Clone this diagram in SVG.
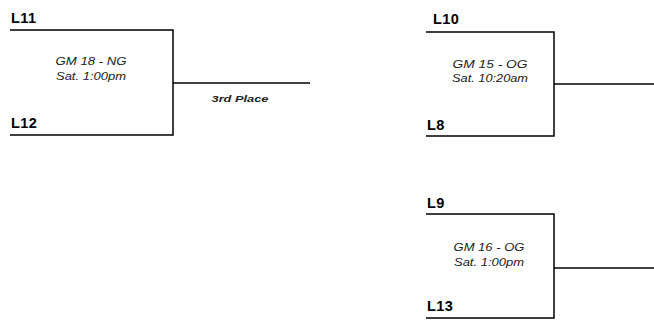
<svg xmlns="http://www.w3.org/2000/svg" width="654" height="320" viewBox="0 0 654 320">
<style>
.ln{stroke:#000;stroke-width:1.5;fill:none}
.lab{font-family:"Liberation Sans",Arial,sans-serif;font-weight:bold;font-size:14.5px;letter-spacing:0.4px;fill:#000}
.gm{font-family:"Liberation Sans",Arial,sans-serif;font-style:italic;font-size:11px;fill:#222;text-anchor:middle}
.pl{font-family:"Liberation Sans",Arial,sans-serif;font-style:italic;font-weight:bold;font-size:9.5px;fill:#222;text-anchor:middle}
</style>
<rect width="654" height="320" fill="#fff"/>
<g id="game18">
<path class="ln" d="M10 30H173V135H10"/>
<text class="lab" x="11" y="23">L11</text>
<text class="lab" x="11" y="128">L12</text>
<text class="gm" x="91" y="65" textLength="71" lengthAdjust="spacingAndGlyphs">GM 18 - NG</text>
<text class="gm" x="91" y="80" textLength="70" lengthAdjust="spacingAndGlyphs">Sat. 1:00pm</text>
</g>
<g id="game15">
<path class="ln" d="M426 32H554V136H426"/>
<text class="lab" x="433" y="24">L10</text>
<text class="lab" x="427" y="130">L8</text>
<text class="gm" x="490" y="68" textLength="75" lengthAdjust="spacingAndGlyphs">GM 15 - OG</text>
<text class="gm" x="490" y="82" textLength="76" lengthAdjust="spacingAndGlyphs">Sat. 10:20am</text>
</g>
<g id="game16">
<path class="ln" d="M426 214H554V318H426"/>
<text class="lab" x="427" y="208">L9</text>
<text class="lab" x="427" y="311">L13</text>
<text class="gm" x="489" y="251" textLength="71" lengthAdjust="spacingAndGlyphs">GM 16 - OG</text>
<text class="gm" x="489" y="266" textLength="70" lengthAdjust="spacingAndGlyphs">Sat. 1:00pm</text>
</g>
<g id="connectors">
<path class="ln" d="M173 83H310"/>
<path class="ln" d="M554 84H654"/>
<path class="ln" d="M554 268H654"/>
</g>
<text class="pl" x="240" y="102" textLength="57" lengthAdjust="spacingAndGlyphs">3rd Place</text>
</svg>
